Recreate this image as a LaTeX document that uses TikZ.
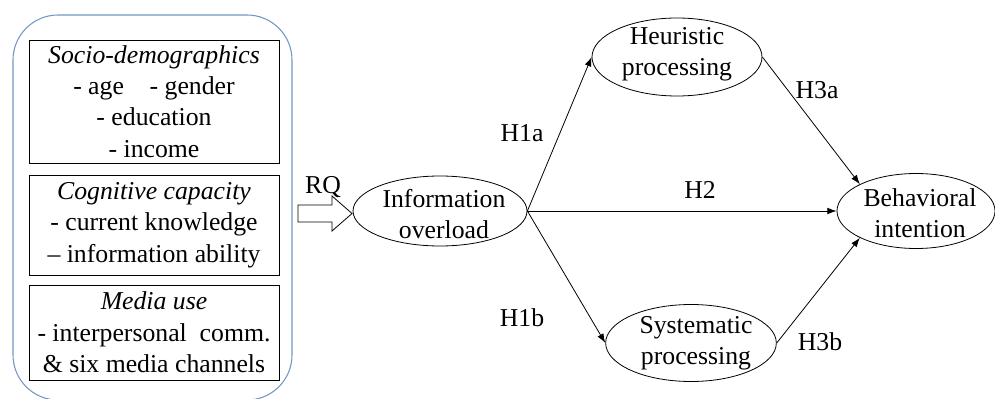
\documentclass[tikz,border=0pt]{standalone}
\usepackage{fontspec}
\setmainfont{Liberation Serif}
\usetikzlibrary{shapes.geometric,arrows.meta}
\definecolor{outerblue}{RGB}{115,150,195}
\begin{document}
\begin{tikzpicture}[x=0.75pt,y=-0.75pt,
  every node/.style={font=\fontsize{19.3pt}{23.5pt}\selectfont, inner sep=0pt},
  groupbox/.style={draw, line width=0.7pt, minimum width=187.5pt, align=center},
  oval/.style={draw, ellipse, line width=0.6pt},
  txt/.style={align=center},
  link/.style={line width=0.6pt, -{Latex[length=7pt,width=5pt]}}
]
\useasboundingbox (0,0) rectangle (995,399);
\clip (0,0) rectangle (995,399);
% outer rounded container
\draw[outerblue, line width=0.8pt, rounded corners=33.75pt] (13,15) rectangle (292,400);
% inner boxes
\node[groupbox, minimum height=92.25pt] (b1) at (154,101.5)
  {\textit{Socio-demographics}\\- age\quad - gender\\- education\\- income};
\node[groupbox, minimum height=75pt] (b2) at (154,225)
  {\textit{Cognitive capacity}\\- current knowledge\\– information ability};
\node[groupbox, minimum height=71.25pt] (b3) at (154,332.5)
  {\textit{Media use}\\- interpersonal\ \ comm.\\\&\ six media channels};
% block arrow
\draw[line width=0.6pt, fill=white] (298,205) -- (332,205) -- (332,196) -- (352,213.5) -- (332,231) -- (332,222) -- (298,222) -- cycle;
\node (rq) at (323,187) {RQ};
% ellipses
\node[oval, minimum width=130.5pt, minimum height=52.5pt] (io) at (440,211) {};
\node[txt] (iot) at (444,214) {Information\\overload};
\node[oval, minimum width=127.5pt, minimum height=58.5pt] (heu) at (677,57) {};
\node[txt] (heut) at (677,54) {Heuristic\\processing};
\node[oval, minimum width=128pt, minimum height=57.75pt] (sys) at (691,343) {};
\node[txt] (syst) at (696,343) {Systematic\\processing};
\node[oval, minimum width=118.5pt, minimum height=56.25pt] (beh) at (916,211) {};
\node[txt] (beht) at (920,213) {Behavioral\\intention};
% connectors
\draw[link] (io.east) -- (heu.west);
\draw[link] (io.east) -- (sys.west);
\draw[link] (io.east) -- (beh.west);
\draw[link] (heu.east) -- (beh.north west);
\draw[link] (sys.east) -- (beh.south west);
% labels
\node (h1a) at (522,133) {H1a};
\node (h1b) at (522,318) {H1b};
\node (h2) at (700,190) {H2};
\node (h3a) at (817,90) {H3a};
\node (h3b) at (820,342) {H3b};
\end{tikzpicture}
\end{document}
